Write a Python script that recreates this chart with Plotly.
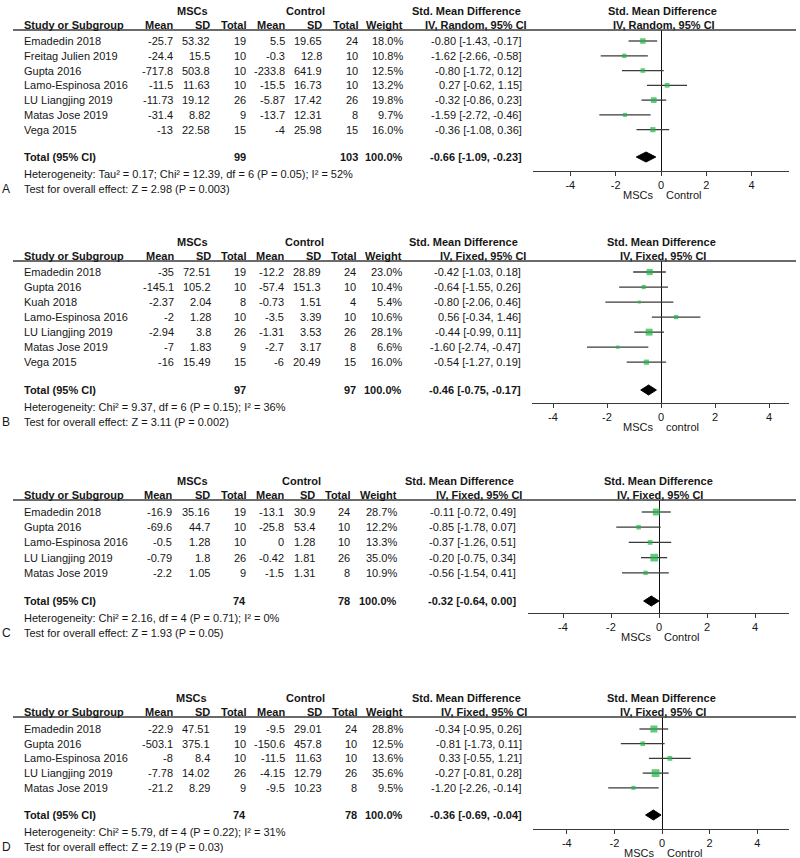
import math
import plotly.graph_objects as go

# ---------------- data ----------------
A_studies = ["Emadedin 2018", "Freitag Julien 2019", "Gupta 2016", "Lamo-Espinosa 2016",
             "LU Liangjing 2019", "Matas Jose 2019", "Vega 2015"]
A_msc_mean = [-25.7, -24.4, -717.8, -11.5, -11.73, -31.4, -13]
A_msc_sd = [53.32, 15.5, 503.8, 11.63, 19.12, 8.82, 22.58]
A_msc_n = [19, 10, 10, 10, 26, 9, 15]
A_ctl_mean = [5.5, -0.3, -233.8, -15.5, -5.87, -13.7, -4]
A_ctl_sd = [19.65, 12.8, 641.9, 16.73, 17.42, 12.31, 25.98]
A_ctl_n = [24, 10, 10, 10, 26, 8, 15]
A_weight = [18.0, 10.8, 12.5, 13.2, 19.8, 9.7, 16.0]
A_smd = [-0.80, -1.62, -0.80, 0.27, -0.32, -1.59, -0.36]
A_lo = [-1.43, -2.66, -1.72, -0.62, -0.86, -2.72, -1.08]
A_hi = [-0.17, -0.58, 0.12, 1.15, 0.23, -0.46, 0.36]
A_total = [99, 103, -0.66, -1.09, -0.23]
A_het = "Heterogeneity: Tau² = 0.17; Chi² = 12.39, df = 6 (P = 0.05); I² = 52%"
A_test = "Test for overall effect: Z = 2.98 (P = 0.003)"
A_method = "IV, Random, 95% CI"
A_favours = ["MSCs", "Control"]

B_studies = ["Emadedin 2018", "Gupta 2016", "Kuah 2018", "Lamo-Espinosa 2016",
             "LU Liangjing 2019", "Matas Jose 2019", "Vega 2015"]
B_msc_mean = [-35, -145.1, -2.37, -2, -2.94, -7, -16]
B_msc_sd = [72.51, 105.2, 2.04, 1.28, 3.8, 1.83, 15.49]
B_msc_n = [19, 10, 8, 10, 26, 9, 15]
B_ctl_mean = [-12.2, -57.4, -0.73, -3.5, -1.31, -2.7, -6]
B_ctl_sd = [28.89, 151.3, 1.51, 3.39, 3.53, 3.17, 20.49]
B_ctl_n = [24, 10, 4, 10, 26, 8, 15]
B_weight = [23.0, 10.4, 5.4, 10.6, 28.1, 6.6, 16.0]
B_smd = [-0.42, -0.64, -0.80, 0.56, -0.44, -1.60, -0.54]
B_lo = [-1.03, -1.55, -2.06, -0.34, -0.99, -2.74, -1.27]
B_hi = [0.18, 0.26, 0.46, 1.46, 0.11, -0.47, 0.19]
B_total = [97, 97, -0.46, -0.75, -0.17]
B_het = "Heterogeneity: Chi² = 9.37, df = 6 (P = 0.15); I² = 36%"
B_test = "Test for overall effect: Z = 3.11 (P = 0.002)"
B_method = "IV, Fixed, 95% CI"
B_favours = ["MSCs", "control"]

C_studies = ["Emadedin 2018", "Gupta 2016", "Lamo-Espinosa 2016", "LU Liangjing 2019", "Matas Jose 2019"]
C_msc_mean = [-16.9, -69.6, -0.5, -0.79, -2.2]
C_msc_sd = [35.16, 44.7, 1.28, 1.8, 1.05]
C_msc_n = [19, 10, 10, 26, 9]
C_ctl_mean = [-13.1, -25.8, 0, -0.42, -1.5]
C_ctl_sd = [30.9, 53.4, 1.28, 1.81, 1.31]
C_ctl_n = [24, 10, 10, 26, 8]
C_weight = [28.7, 12.2, 13.3, 35.0, 10.9]
C_smd = [-0.11, -0.85, -0.37, -0.20, -0.56]
C_lo = [-0.72, -1.78, -1.26, -0.75, -1.54]
C_hi = [0.49, 0.07, 0.51, 0.34, 0.41]
C_total = [74, 78, -0.32, -0.64, 0.00]
C_het = "Heterogeneity: Chi² = 2.16, df = 4 (P = 0.71); I² = 0%"
C_test = "Test for overall effect: Z = 1.93 (P = 0.05)"
C_method = "IV, Fixed, 95% CI"
C_favours = ["MSCs", "Control"]

D_studies = ["Emadedin 2018", "Gupta 2016", "Lamo-Espinosa 2016", "LU Liangjing 2019", "Matas Jose 2019"]
D_msc_mean = [-22.9, -503.1, -8, -7.78, -21.2]
D_msc_sd = [47.51, 375.1, 8.4, 14.02, 8.29]
D_msc_n = [19, 10, 10, 26, 9]
D_ctl_mean = [-9.5, -150.6, -11.5, -4.15, -9.5]
D_ctl_sd = [29.01, 457.8, 11.63, 12.79, 10.23]
D_ctl_n = [24, 10, 10, 26, 8]
D_weight = [28.8, 12.5, 13.6, 35.6, 9.5]
D_smd = [-0.34, -0.81, 0.33, -0.27, -1.20]
D_lo = [-0.95, -1.73, -0.55, -0.81, -2.26]
D_hi = [0.26, 0.11, 1.21, 0.28, -0.14]
D_total = [74, 78, -0.36, -0.69, -0.04]
D_het = "Heterogeneity: Chi² = 5.79, df = 4 (P = 0.22); I² = 31%"
D_test = "Test for overall effect: Z = 2.19 (P = 0.03)"
D_method = "IV, Fixed, 95% CI"
D_favours = ["MSCs", "Control"]

tick_vals = [-4, -2, 0, 2, 4]
tick_text = ["-4", "-2", "0", "2", "4"]
panel_letters = ["A", "B", "C", "D"]

# ---------------- layout (pixel geometry) ----------------
W, H = 800, 858
GEOM = [
    dict(hdr=30, row1=41, total=157, axis=171, xl=533, xr=789, zero=661, ppu=22.67,
         cols=[22, 175, 212, 248, 287, 324, 360, 405, 524], smdc=466, ivr=529, rc=662,
         mscc=192, ctlc=305),
    dict(hdr=261, row1=272, total=390, axis=403, xl=532, xr=789, zero=661, ppu=27.0,
         cols=[22, 176, 213, 248, 286, 323, 358, 404, 523], smdc=464, ivr=528, rc=661,
         mscc=192, ctlc=304),
    dict(hdr=500, row1=512, total=601, axis=613, xl=528, xr=789, zero=659, ppu=24.0,
         cols=[22, 174, 212, 248, 286, 317, 352, 399, 518], smdc=460, ivr=524, rc=658,
         mscc=192, ctlc=301),
    dict(hdr=717, row1=729, total=815, axis=829, xl=533, xr=789, zero=662, ppu=23.8,
         cols=[22, 175, 212, 248, 287, 324, 359, 405, 524], smdc=466, ivr=529, rc=661,
         mscc=191, ctlc=305),
]

panels = [
    (A_studies, A_msc_mean, A_msc_sd, A_msc_n, A_ctl_mean, A_ctl_sd, A_ctl_n, A_weight, A_smd, A_lo, A_hi, A_total, A_het, A_test, A_method, A_favours),
    (B_studies, B_msc_mean, B_msc_sd, B_msc_n, B_ctl_mean, B_ctl_sd, B_ctl_n, B_weight, B_smd, B_lo, B_hi, B_total, B_het, B_test, B_method, B_favours),
    (C_studies, C_msc_mean, C_msc_sd, C_msc_n, C_ctl_mean, C_ctl_sd, C_ctl_n, C_weight, C_smd, C_lo, C_hi, C_total, C_het, C_test, C_method, C_favours),
    (D_studies, D_msc_mean, D_msc_sd, D_msc_n, D_ctl_mean, D_ctl_sd, D_ctl_n, D_weight, D_smd, D_lo, D_hi, D_total, D_het, D_test, D_method, D_favours),
]

FONT = "Liberation Sans, Arial, sans-serif"
TXT = "#161616"
GREEN = "#22B446"
LINE = "#3a3a3a"
FS = 11


def px_y(p):
    return 1 - p / H


def px_x(p):
    return p / W


def g(v):
    return f"{v:g}"


def ci(e, l, h):
    return f"{e:.2f} [{l:.2f}, {h:.2f}]"


fig = go.Figure()
annotations = []
shapes = []
layout_axes = {}

for k, (pan, geo) in enumerate(zip(panels, GEOM), start=1):
    (studies, mm, msd, mn, cm, csd, cn, wt, smd, lo, hi, tot, het, test, method, fav) = pan
    n = len(studies)
    rows = list(range(1, n + 1))
    tot_row = n + 1.85
    pitch = (geo["total"] - geo["row1"]) / (tot_row - 1)
    y_top = 1 - (geo["row1"] - geo["hdr"]) / pitch
    y_bot = 1 + (geo["axis"] - geo["row1"]) / pitch
    x_rng = [(geo["xl"] - geo["zero"]) / geo["ppu"], (geo["xr"] - geo["zero"]) / geo["ppu"]]
    xa = "x" if k == 1 else f"x{k}"
    ya = "y" if k == 1 else f"y{k}"

    # study estimates with CI
    fig.add_trace(go.Scatter(
        x=smd, y=rows, mode="markers", xaxis=xa, yaxis=ya, showlegend=False,
        marker=dict(symbol="square", color=GREEN, size=[1.3 * math.sqrt(w) for w in wt], line=dict(width=0)),
        error_x=dict(type="data", symmetric=False,
                     array=[h - e for h, e in zip(hi, smd)],
                     arrayminus=[e - l for e, l in zip(smd, lo)],
                     color=LINE, thickness=1.3, width=0),
        hoverinfo="skip"))
    # pooled diamond
    half = 5.0 / pitch
    t_e, t_l, t_h = tot[2], tot[3], tot[4]
    fig.add_trace(go.Scatter(
        x=[t_l, t_e, t_h, t_e, t_l], y=[tot_row, tot_row - half, tot_row, tot_row + half, tot_row],
        mode="lines", fill="toself", fillcolor="black", line=dict(color="black", width=1),
        xaxis=xa, yaxis=ya, showlegend=False, hoverinfo="skip"))

    dom_x = [px_x(geo["xl"]), px_x(geo["xr"])]
    dom_y = [px_y(geo["axis"]), px_y(geo["hdr"])]
    key_x = "xaxis" if k == 1 else f"xaxis{k}"
    key_y = "yaxis" if k == 1 else f"yaxis{k}"
    layout_axes[key_x] = dict(domain=dom_x, range=x_rng, anchor=ya, showgrid=False,
                              showline=True, linecolor=LINE, linewidth=1.3,
                              ticks="outside", ticklen=4, tickcolor=LINE, tickwidth=1.2,
                              tickvals=tick_vals, ticktext=tick_text,
                              tickfont=dict(family=FONT, size=FS, color=TXT),
                              zeroline=True, zerolinecolor="#111", zerolinewidth=1.2,
                              fixedrange=True)
    layout_axes[f"xaxis{k + 4}"] = dict(domain=dom_x, range=x_rng, anchor=ya, overlaying=xa,
                                        side="bottom", showgrid=False, showline=False, zeroline=False,
                                        ticks="inside", ticklen=4, tickcolor=LINE, tickwidth=1.2,
                                        tickvals=tick_vals, showticklabels=False, fixedrange=True)
    layout_axes[key_y] = dict(domain=dom_y, range=[y_bot, y_top], anchor=xa, visible=False,
                              showgrid=False, zeroline=False, fixedrange=True)

    cols = geo["cols"]

    def ann(text, x, y, anchor="right", yref="paper", bold=False, size=FS, xref="paper", xshift=0):
        annotations.append(dict(text=f"<b>{text}</b>" if bold else text, x=x, y=y, xref=xref, yref=yref,
                                xanchor=anchor, yanchor="middle", showarrow=False, xshift=xshift,
                                font=dict(family=FONT, size=size, color=TXT)))

    # headers
    hy1 = px_y(geo["hdr"] - 19)
    hy2 = px_y(geo["hdr"] - 5)
    ann("MSCs", px_x(geo["mscc"]), hy1, "center", bold=True)
    ann("Control", px_x(geo["ctlc"]), hy1, "center", bold=True)
    ann("Std. Mean Difference", px_x(geo["smdc"]), hy1, "center", bold=True)
    ann("Std. Mean Difference", px_x(geo["rc"]), hy1, "center", bold=True)
    ann("Study or Subgroup", px_x(cols[0]), hy2, "left", bold=True)
    for txt, c in zip(["Mean", "SD", "Total", "Mean", "SD", "Total", "Weight"], cols[1:8]):
        ann(txt, px_x(c), hy2, "right", bold=True)
    ann(method, px_x(geo["ivr"]), hy2, "right", bold=True)
    ann(method, px_x(geo["rc"] + 2), hy2, "center", bold=True)

    shapes.append(dict(type="line", xref="paper", yref="paper", x0=px_x(13), x1=px_x(796),
                       y0=px_y(geo["hdr"]), y1=px_y(geo["hdr"]), line=dict(color=LINE, width=1.5)))

    # study rows
    for i in range(n):
        r = rows[i]
        ann(studies[i], px_x(cols[0]), r, "left", yref=ya)
        vals = [g(mm[i]), g(msd[i]), str(mn[i]), g(cm[i]), g(csd[i]), str(cn[i]),
                f"{wt[i]:.1f}%", ci(smd[i], lo[i], hi[i])]
        for v, c in zip(vals, cols[1:]):
            ann(v, px_x(c), r, "right", yref=ya)

    # total row
    ann("Total (95% CI)", px_x(cols[0]), tot_row, "left", yref=ya, bold=True)
    ann(str(tot[0]), px_x(cols[3]), tot_row, "right", yref=ya, bold=True)
    ann(str(tot[1]), px_x(cols[6]), tot_row, "right", yref=ya, bold=True)
    ann("100.0%", px_x(cols[7]), tot_row, "right", yref=ya, bold=True)
    ann(ci(t_e, t_l, t_h), px_x(cols[8]), tot_row, "right", yref=ya, bold=True)

    # footers
    ann(het, px_x(cols[0]), px_y(geo["total"] + 16.5), "left")
    ann(test, px_x(cols[0]), px_y(geo["total"] + 31.5), "left")
    ann(panel_letters[k - 1], px_x(0), px_y(geo["total"] + 32), "left", size=12)

    # favours labels
    ann(fav[0], 0, px_y(geo["axis"] + 24), "right", xref=xa, xshift=-6)
    ann(fav[1], 0, px_y(geo["axis"] + 24), "left", xref=xa, xshift=3)

fig.update_layout(
    width=W, height=H, margin=dict(l=0, r=0, t=0, b=0),
    paper_bgcolor="white", plot_bgcolor="white",
    annotations=annotations, shapes=shapes, hovermode=False,
    font=dict(family=FONT, size=FS, color=TXT),
    **layout_axes)

fig.write_html("out.html", config={"displayModeBar": False},
               post_script="document.body.style.margin='0';document.body.style.overflow='hidden';")
